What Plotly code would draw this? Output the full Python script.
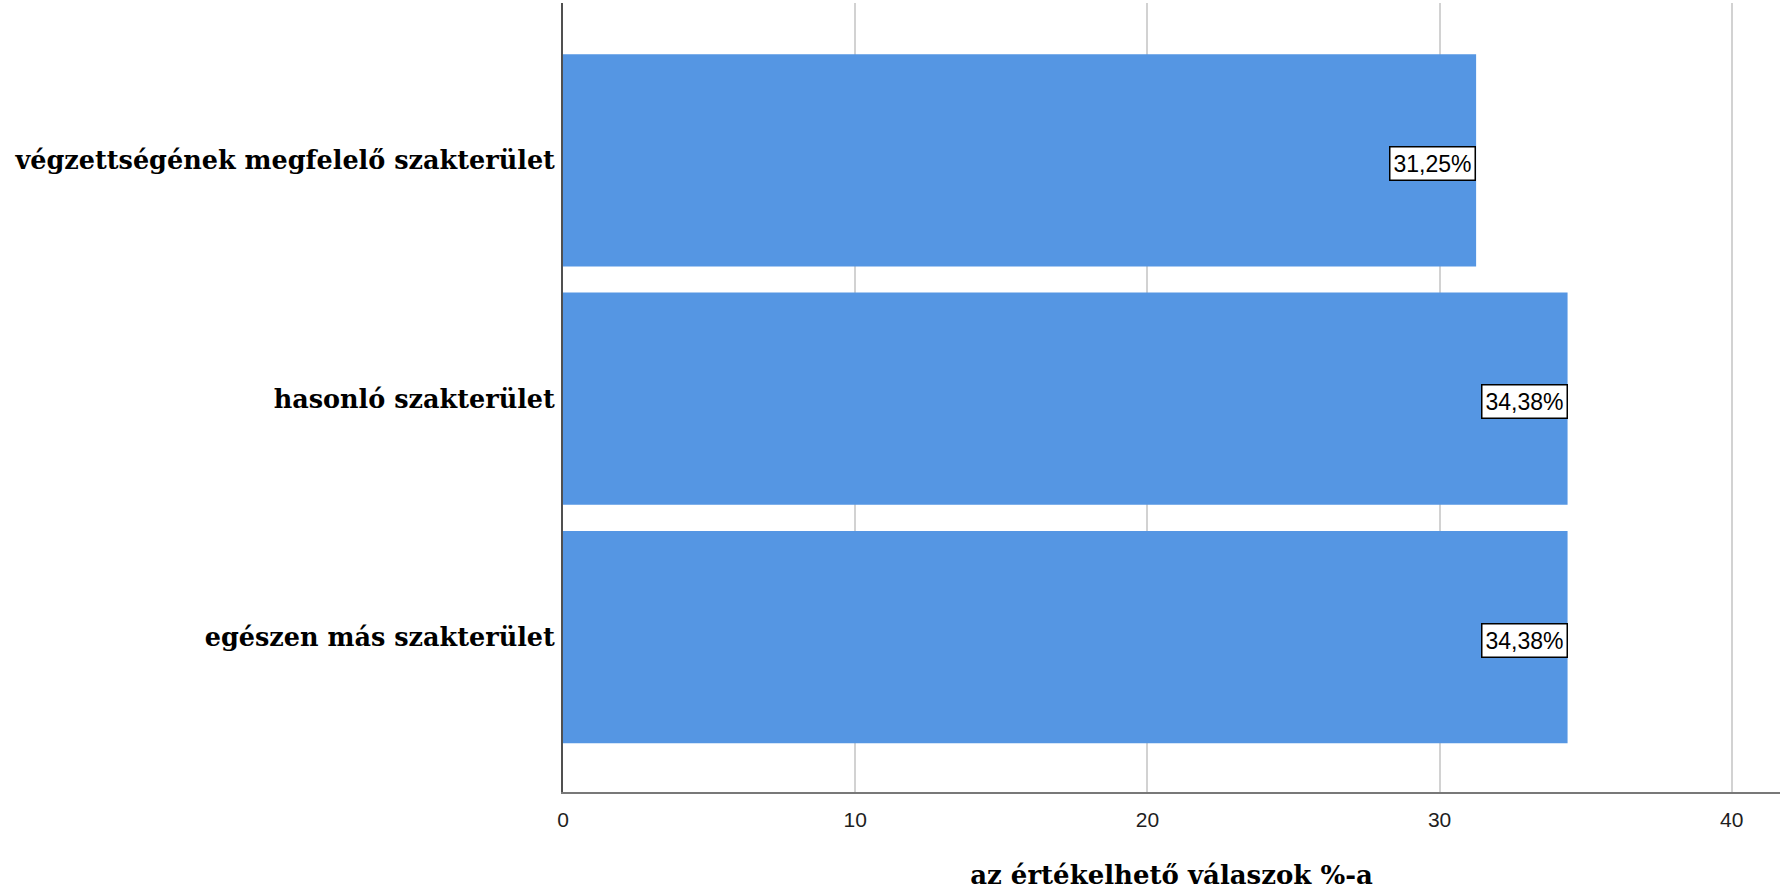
import plotly.graph_objects as go

categories = ["végzettségének megfelelő szakterület", "hasonló szakterület", "egészen más szakterület"]
values = [31.25, 34.38, 34.38]
labels = ["31,25%", "34,38%", "34,38%"]
tick_vals = [0, 10, 20, 30, 40]
x_title = "az értékelhető válaszok %-a"

BAR_COLOR = "rgb(85,150,227)"

fig = go.Figure()
fig.add_trace(go.Bar(
    x=values, y=categories, orientation="h",
    marker=dict(color=BAR_COLOR, line=dict(width=0)),
    width=0.89, hoverinfo="skip",
))

for v, c, t in zip(values, categories, labels):
    fig.add_annotation(
        x=v, y=c, xref="x", yref="y", text=t, showarrow=False,
        xanchor="right", yanchor="middle", yshift=-3,
        font=dict(family="Liberation Sans, Arial, sans-serif", size=23, color="black"),
        bgcolor="white", bordercolor="black", borderwidth=1.5, borderpad=3,
    )

fig.update_layout(
    width=1780, height=891,
    margin=dict(l=563, r=0, t=3, b=99),
    paper_bgcolor="white", plot_bgcolor="white",
    showlegend=False,
    xaxis=dict(
        range=[0, 41.65], tickvals=tick_vals, ticktext=[str(v) for v in tick_vals],
        showgrid=True, gridcolor="rgb(210,210,210)", gridwidth=2,
        zeroline=False, showline=True, linecolor="rgb(120,120,120)", linewidth=2,
        ticks="", tickfont=dict(family="Liberation Sans, Arial, sans-serif", size=21, color="rgb(30,30,30)"),
        ticklabelstandoff=8,
        title=dict(text=x_title, standoff=36,
                   font=dict(family="DejaVu Serif, serif", size=26, color="black", weight="bold")),
    ),
    yaxis=dict(
        categoryorder="array", categoryarray=categories,
        range=[2.65, -0.66],
        showgrid=False, zeroline=False, showline=True, linecolor="rgb(80,80,80)", linewidth=2,
        ticks="", ticklabelstandoff=1,
        tickfont=dict(family="DejaVu Serif, serif", size=25.5, color="black", weight="bold"),
    ),
)

fig.write_html("out.html", config={"displayModeBar": False},
               post_script="document.body.style.margin='0';document.body.style.overflow='hidden';")
